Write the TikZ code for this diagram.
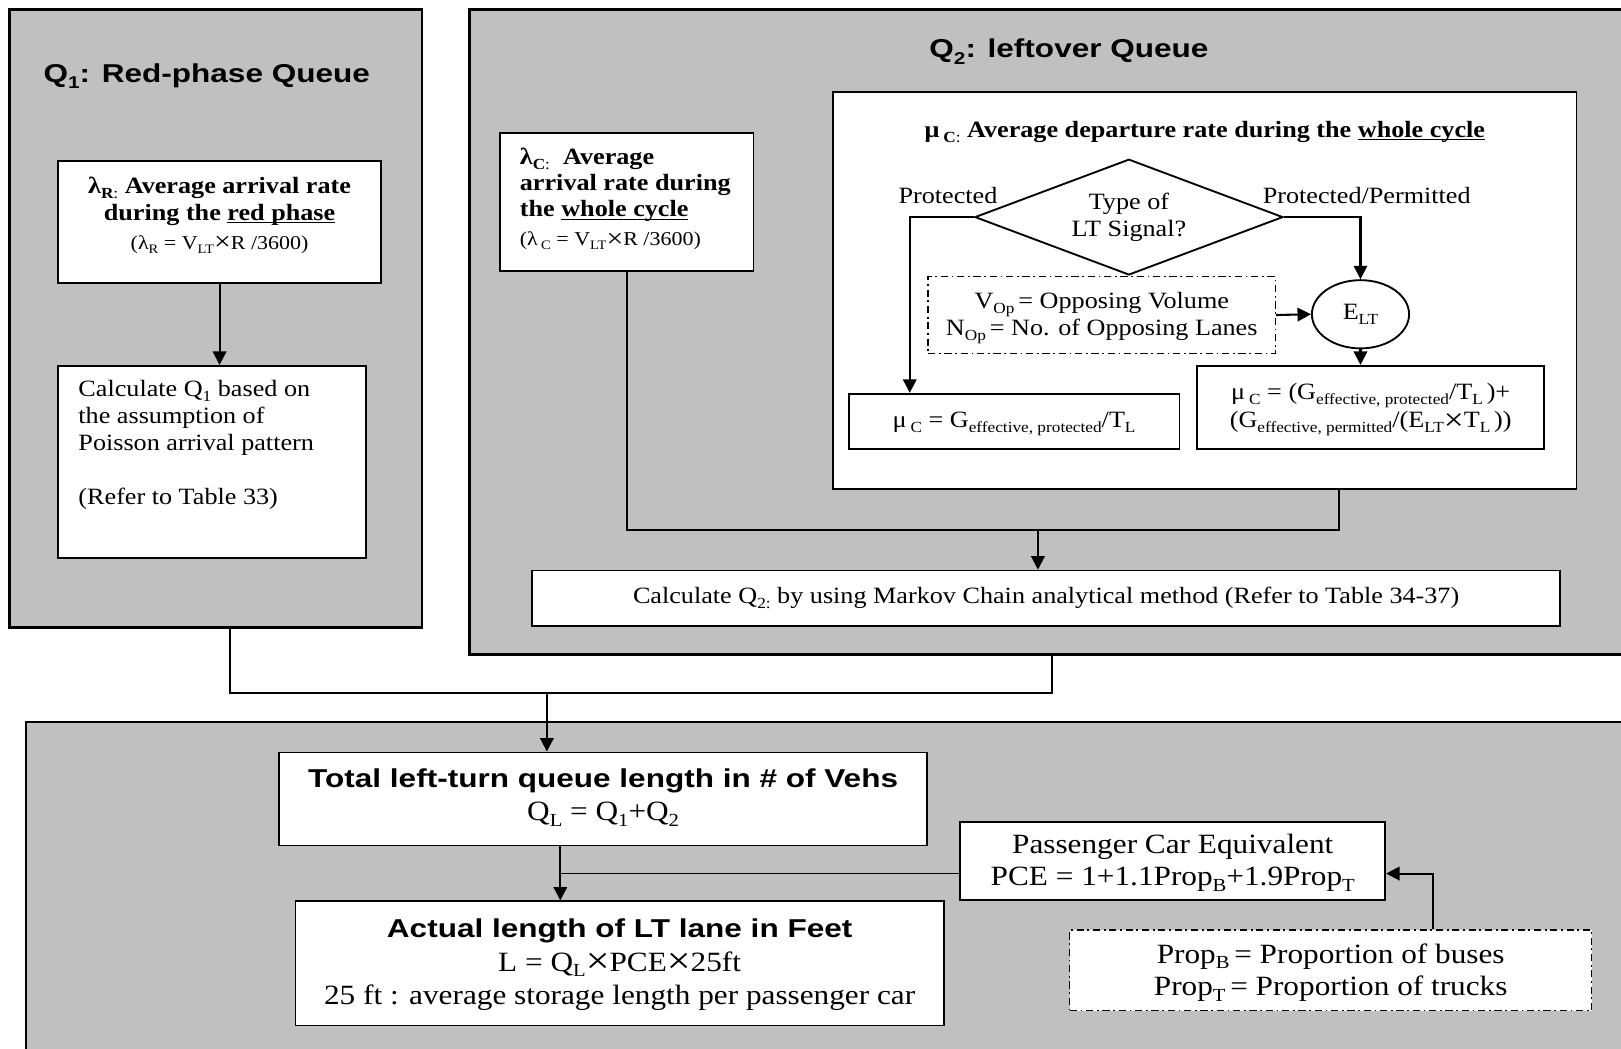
\documentclass[tikz,border=0pt]{standalone}
\usepackage{fontspec}
\usepackage{graphicx}
\setmainfont[FakeStretch=1.12]{Liberation Serif}
\newfontfamily\hfont[FakeStretch=1.22]{Liberation Sans}
\usetikzlibrary{arrows.meta,shapes.geometric}
\definecolor{panelgrey}{HTML}{C0C0C0}

% lowered, reduced subscript in text
\newcommand\lsub[1]{\raisebox{-0.45ex}{\scalebox{0.66}{#1}}}
% enlarged multiplication sign
\newcommand\tms{\raisebox{-0.2ex}{\scalebox{1.35}{×}}}
% underline at a fixed depth below the baseline
\newcommand\uln[1]{\setbox0\hbox{#1}\rlap{\rule[-2.6pt]{\wd0}{1.1pt}}\box0}
% fixed-size text block: width, height, setup, first baseline, text
\newcommand\tbox[5]{\parbox[t][#2pt][t]{#1pt}{#3\rule{0pt}{#4pt}#5}}
\newcommand\txt{\fontsize{22.6}{26}\selectfont}
\newcommand\btxt{\fontsize{22.6}{25.5}\selectfont\bfseries}
\newcommand\headtxt{\hfont\bfseries\fontsize{25}{31}\selectfont}

\tikzset{
  panel/.style={draw, line width=2.2pt, fill=panelgrey, inner sep=0pt, anchor=north west},
  wbox/.style={draw, line width=1.8pt, fill=white, inner sep=0pt, anchor=north west},
  dbox/.style={wbox, line width=1.4pt, dash pattern=on 7pt off 3.5pt on 1.8pt off 3.5pt},
  link/.style={line width=1.7pt},
  arr/.style={line width=2pt, -{Triangle[length=13pt,width=13pt]}},
}

\begin{document}
\begin{tikzpicture}[x=1pt,y=-1pt]
\useasboundingbox (0,0) rectangle (1568,1014);
\clip (0,0) rectangle (1568,1014);
\fill[white] (0,0) rectangle (1568,1014);

% ---- panels
\node[panel, minimum width=399pt, minimum height=598pt] (p1) at (8,8) {};
\node[panel, minimum width=1127pt, minimum height=624pt] (p2) at (453,8) {};
\node[panel, minimum width=1556pt, minimum height=330pt] (p3) at (24,697) {};

\node[anchor=base] (t1) at (200,80) {\headtxt Q\lsub{1}: Red-phase Queue};
\node[anchor=base] (t2) at (1034,56) {\headtxt Q\lsub{2}: leftover Queue};

% ---- red-phase queue
\node[wbox] (lamR) at (55,155) {\tbox{313}{118}{\centering}{31.5}{\btxt
  λ\lsub{R}\lsub{\mdseries :} Average arrival rate\\during the \uln{red phase}\par
  \fontsize{19}{28}\selectfont\mdseries (λ\lsub{R} = V\lsub{LT}\tms R /3600)}};
\node[wbox] (q1c) at (55,353) {\tbox{298}{186}{\raggedright\leftskip=20pt\txt}{30}{%
  Calculate Q\lsub{1} based on\\the assumption of\\Poisson arrival pattern\\[26pt](Refer to Table 33)}};
\draw[arr] (lamR.south) -- (lamR.south |- q1c.north);

% ---- leftover queue
\node[wbox] (lamC) at (483,128) {\tbox{245}{133}{\raggedright\leftskip=19pt}{30}{\btxt
  λ\lsub{C}\lsub{\mdseries :}\ \ Average\\arrival rate during\\the \uln{whole cycle}\par
  \fontsize{19}{28}\selectfont\mdseries (λ\,\lsub{C} = V\lsub{LT}\tms R /3600)}};

\node[wbox] (muC) at (805,88) {\tbox{719}{384}{\centering}{44}{\btxt
  μ\,\lsub{C}\lsub{\mdseries :} Average departure rate during the \uln{whole cycle}}};

\node[diamond, draw, line width=1.8pt, fill=white, inner sep=0pt, aspect=2.66,
  minimum width=298pt, minimum height=112pt, align=center, font=\txt] (dia) at (1092,210) {Type of\\LT Signal?};
\node[anchor=base, font=\txt] (lp) at (917,197) {Protected};
\node[anchor=base, font=\txt] (lpp) at (1322,197) {Protected/Permitted};

\node[dbox] (vop) at (897,267) {\tbox{336}{74}{\centering\txt}{31}{%
  V\lsub{Op}\,= Opposing Volume\\N\lsub{Op}\,= No. of Opposing Lanes}};
\node[ellipse, draw, line width=1.8pt, fill=white, inner sep=0pt, minimum width=94pt,
  minimum height=66pt, font=\txt] (elt) at (1316,304) {E\lsub{LT}};

\node[wbox] (mul) at (820,380) {\tbox{320}{53}{\centering\txt}{33}{%
  μ\,\lsub{C} = G\lsub{effective, protected}/T\lsub{L}}};
\node[wbox] (mur) at (1157,353) {\tbox{336}{80}{\centering\fontsize{22.6}{27}\selectfont}{33}{%
  μ\,\lsub{C} = (G\lsub{effective, protected}/T\lsub{L}\,)+\\(G\lsub{effective, permitted}/(E\lsub{LT}\tms T\lsub{L}\,))}};

\draw[arr] (dia.west) -| ([xshift=60pt]mul.north west);
\draw[arr] (dia.east) -| (elt.north);
\draw[arr] (vop.east) -- (elt.west);
\draw[arr] (elt.south) -- (elt.south |- mur.north);

\node[wbox] (mk) at (514,551) {\tbox{994}{54}{\centering\txt}{32}{%
  Calculate Q\lsub{2:} by using Markov Chain analytical method (Refer to Table 34-37)}};
\coordinate (j2) at (1004,513);
\draw[link] (lamC.south) |- (j2) -| ([xshift=130pt]muC.south);
\draw[arr] (j2) -- (j2 |- mk.north);

% ---- combined result
\node[wbox] (tot) at (269,727) {\tbox{627}{90}{\centering}{34}{\headtxt
  Total left-turn queue length in \# of Vehs\par
  \normalfont\fontsize{27}{32}\selectfont Q\lsub{L} = Q\lsub{1}+Q\lsub{2}}};
\node[wbox] (act) at (285,871) {\tbox{627}{120}{\centering}{35}{\headtxt
  Actual length of LT lane in Feet\par
  \normalfont\fontsize{27}{32.5}\selectfont L = Q\lsub{L}\tms PCE\tms 25ft\\25 ft : average storage length per passenger car}};
\node[wbox] (pce) at (928,794) {\tbox{411}{76}{\centering\fontsize{27}{31}\selectfont}{31}{%
  Passenger Car Equivalent\\PCE = 1+1.1Prop\lsub{B}+1.9Prop\lsub{T}}};
\node[dbox] (prop) at (1034,899) {\tbox{505}{78}{\centering\fontsize{27}{31}\selectfont}{32}{%
  Prop\lsub{B}\,= Proportion of buses\\Prop\lsub{T}\,= Proportion of trucks}};

\coordinate (j1) at (529,670);
\draw[link] ([xshift=14pt]p1.south) |- (p2.south |- j1) -- (p2.south);
\draw[arr] (j1) -- (j1 |- tot.north);

\coordinate (j3) at (542,845);
\draw[arr] (j3 |- tot.south) -- (j3 |- act.north);
\draw[link] (j3) -- (pce.west |- j3);
\draw[arr] ([xshift=352pt]prop.north west) |- (pce.east |- j3);
\end{tikzpicture}
\end{document}
